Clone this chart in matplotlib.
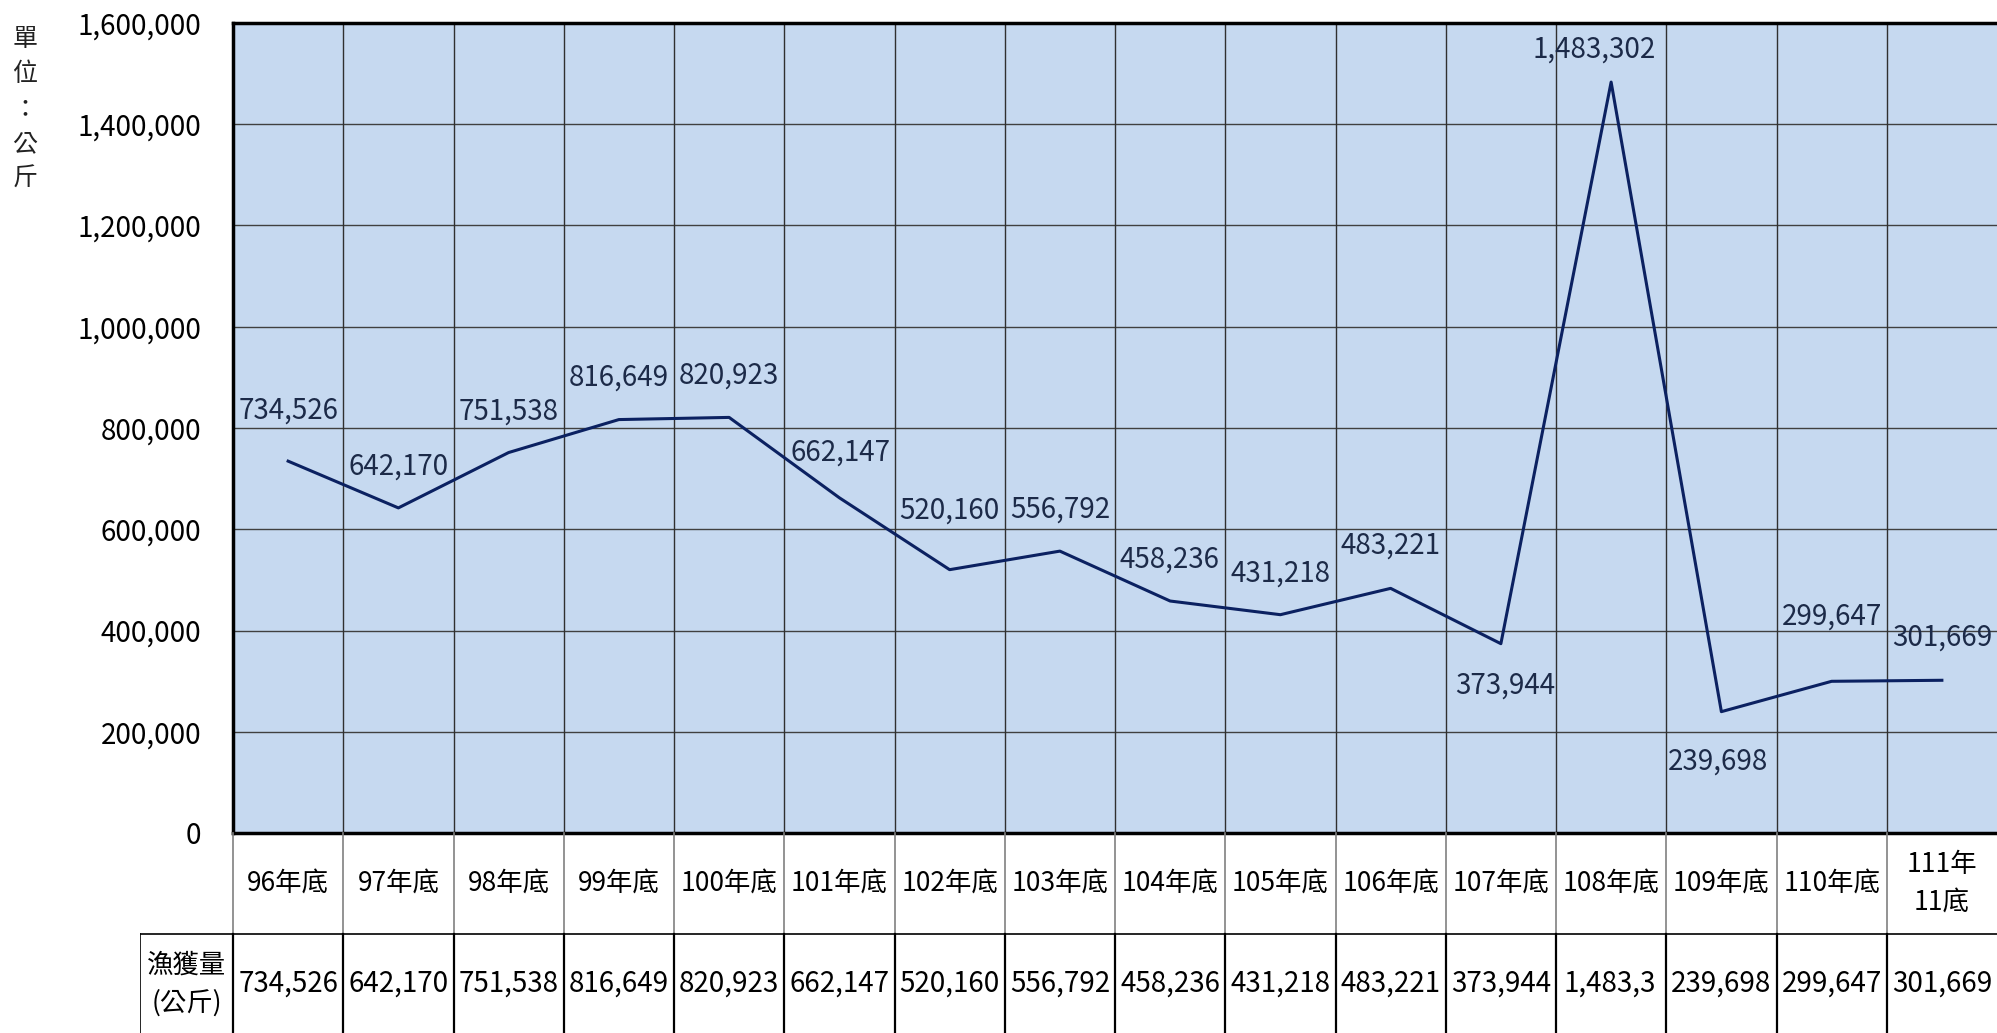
import matplotlib
matplotlib.use("Agg")
import matplotlib.pyplot as plt
from matplotlib.transforms import Bbox, TransformedBbox

plt.rcParams['font.family'] = ['Noto Sans CJK TC', 'DejaVu Sans']

# data
years = ['96年底', '97年底', '98年底', '99年底', '100年底', '101年底', '102年底', '103年底',
         '104年底', '105年底', '106年底', '107年底', '108年底', '109年底', '110年底', '111年\n11底']
catch_kg = [734526, 642170, 751538, 816649, 820923, 662147, 520160, 556792,
            458236, 431218, 483221, 373944, 1483302, 239698, 299647, 301669]
y_ticks = [0, 200000, 400000, 600000, 800000, 1000000, 1200000, 1400000, 1600000]
row_label = '漁獲量\n(公斤)'
unit_label = '單位：公斤'

# label offsets in pixels of the reference (dx, dy down positive)
label_offsets = [(0, -51), (0, -41), (0, -41), (0, -42), (0, -42), (1, -45), (0, -59), (0, -42),
                 (-1, -41), (0, -41), (0, -43), (4, 42), (-17, -32), (-3, 50), (0, -65), (0, -43)]

W, H = 1997, 1033
DPI = 100


def box(x0, y0, x1, y1):
    return [x0 / W, 1 - y1 / H, (x1 - x0) / W, (y1 - y0) / H]


fig = plt.figure(figsize=(W / DPI, H / DPI), dpi=DPI)

n = len(years)
xs = list(range(n))
col_w = (1997 - 233) / n

# main plot
ax = fig.add_axes(box(233, 23, 1997, 833))
ax.set_facecolor('#c6d9f0')
ax.set_xlim(-0.5, n - 0.5)
ax.set_ylim(0, 1600000)
ax.set_yticks(y_ticks)
ax.set_yticklabels([f'{v:,}' for v in y_ticks], fontsize=20)
ax.tick_params(axis='y', length=0, pad=23)
ax.set_xticks([])
for v in y_ticks[1:-1]:
    ax.axhline(v, color='#404040', lw=1.0, zorder=1)
for i in range(n - 1):
    ax.axvline(i + 0.5, color='#303030', lw=1.0, zorder=1)
for s in ['left', 'top', 'bottom']:
    ax.spines[s].set_linewidth(2.5)
    ax.spines[s].set_color('black')
ax.spines['right'].set_visible(False)

ax.plot(xs, catch_kg, color='#0b2161', lw=2.2, zorder=3)
for x, v, (dx, dy) in zip(xs, catch_kg, label_offsets):
    ax.annotate(f'{v:,}', (x, v), xytext=(dx * 0.72, -dy * 0.72), textcoords='offset points',
                ha='center', va='center', fontsize=20, color='#1c2a48', zorder=4)

fig.text(25 / W, 1 - 26 / H, '\n'.join(unit_label), ha='center', va='top',
         fontsize=18, linespacing=1.45, color='#222222')

# table below the plot
tx = fig.add_axes(box(140, 833, 1997, 1033))
tx.set_xlim(-0.5 - 93 / col_w, n - 0.5)
tx.set_ylim(200, 0)
tx.axis('off')

row_split = 101
for i in range(n):
    tx.plot([i - 0.5, i - 0.5], [0, row_split], color='#808080', lw=1.2, clip_on=False)
    tx.plot([i - 0.5, i - 0.5], [row_split, 200], color='black', lw=1.6, clip_on=False)
tx.plot([-0.5 - 93 / col_w, -0.5 - 93 / col_w], [row_split, 200], color='black', lw=1.2)
tx.plot([-0.5 - 93 / col_w, n - 0.5], [row_split, row_split], color='black', lw=1.2)

for i, lab in enumerate(years):
    tx.text(i, row_split / 2, lab, ha='center', va='center', fontsize=19,
            linespacing=1.5, color='black')

for i, v in enumerate(catch_kg):
    s = f'{v:,}'
    cell = TransformedBbox(Bbox([[i - 0.5, row_split], [i + 0.5, 200]]), tx.transData)
    if v >= 1000000:
        # the cell is too narrow: the spreadsheet shows the value cut short
        t = tx.text(i - 0.43, 151, s[:7], ha='left', va='center', fontsize=20, color='black')
    else:
        t = tx.text(i, 151, s, ha='center', va='center', fontsize=20, color='black')
    t.set_clip_box(cell)
    t.set_clip_on(True)

tx.text(-0.5 - 93 / col_w / 2, 151, row_label, ha='center', va='center', fontsize=19,
        linespacing=1.5, color='black')

fig.savefig('out.png', dpi=DPI)
